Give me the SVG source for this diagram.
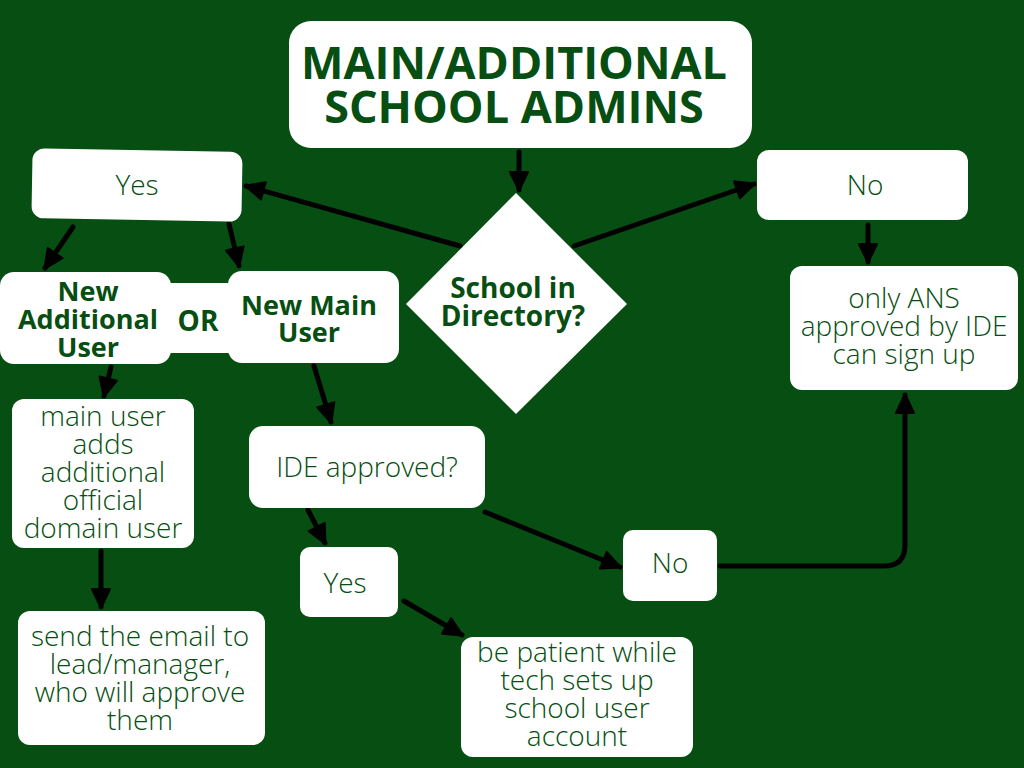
<svg xmlns="http://www.w3.org/2000/svg" width="1024" height="768" viewBox="0 0 1024 768">
<style>
.box{fill:#fff}
.t{font-family:"Open Sans","Noto Sans","Liberation Sans",sans-serif;fill:#064e11;text-anchor:middle}
.l{font-weight:300;font-size:28px}
.b{font-weight:700;font-size:27px}
.d{font-weight:700;font-size:28px}
.h{font-weight:700;font-size:45px}
.c{fill:none;stroke:#000;stroke-width:5;stroke-linecap:round;stroke-linejoin:round}
</style>
<defs>
<marker id="ah" markerUnits="userSpaceOnUse" markerWidth="24" markerHeight="24" refX="18" refY="10" orient="auto" viewBox="-2 -2 24 24">
<path d="M0,1 L19,10 L0,19 z" fill="#000" stroke="#000" stroke-width="2" stroke-linejoin="round"/>
</marker>
</defs>
<rect width="1024" height="768" fill="#064e11"/>
<g id="connectors">
<path class="c" d="M519,152 L519,190" marker-end="url(#ah)"/>
<path class="c" d="M460,246 L246,186" marker-end="url(#ah)"/>
<path class="c" d="M574,246 L754,184" marker-end="url(#ah)"/>
<path class="c" d="M73,227 L45,268" marker-end="url(#ah)"/>
<path class="c" d="M229,224 L239,266" marker-end="url(#ah)"/>
<path class="c" d="M111,367 L104,396" marker-end="url(#ah)"/>
<path class="c" d="M314,366 L331,422" marker-end="url(#ah)"/>
<path class="c" d="M101,551 L101,607" marker-end="url(#ah)"/>
<path class="c" d="M868,225 L868,262" marker-end="url(#ah)"/>
<path class="c" d="M308,510 L325,543" marker-end="url(#ah)"/>
<path class="c" d="M485,512 L620,567" marker-end="url(#ah)"/>
<path class="c" d="M404,601 L462,635" marker-end="url(#ah)"/>
<path class="c" d="M720,566 L884,566 Q905,566 905,545 L905,395" marker-end="url(#ah)"/>
</g>
<g id="title">
<rect class="box" x="289" y="21" width="463" height="127" rx="22"/>
<text class="t h" x="514" y="79">MAIN/ADDITIONAL</text>
<text class="t h" x="514" y="123">SCHOOL ADMINS</text>
</g>
<g id="diamond">
<polygon class="box" points="516,193 627,304 516,414 406,304"/>
<text class="t d" x="513" y="298">School in</text>
<text class="t d" x="513" y="326">Directory?</text>
</g>
<g id="yes-top">
<rect class="box" x="32" y="150" width="210" height="70" rx="12" transform="rotate(1 137 185)"/>
<text class="t l" x="137" y="195">Yes</text>
</g>
<g id="no-top">
<rect class="box" x="757" y="150" width="211" height="70" rx="12"/>
<text class="t l" x="865" y="195">No</text>
</g>
<g id="or">
<rect class="box" x="160" y="283" width="78" height="70" rx="10"/>
<text class="t d" x="198" y="331">OR</text>
</g>
<g id="new-additional">
<rect class="box" x="0" y="272" width="171" height="92" rx="14"/>
<text class="t b" x="88" y="301">New</text>
<text class="t b" x="88" y="329">Additional</text>
<text class="t b" x="88" y="357">User</text>
</g>
<g id="new-main">
<rect class="box" x="228" y="271" width="171" height="92" rx="14"/>
<text class="t b" x="309" y="315">New Main</text>
<text class="t b" x="309" y="342">User</text>
</g>
<g id="main-user-adds">
<rect class="box" x="12" y="399" width="182" height="149" rx="12"/>
<text class="t l" x="103" y="426">main user</text>
<text class="t l" x="103" y="454">adds</text>
<text class="t l" x="103" y="482">additional</text>
<text class="t l" x="103" y="510">official</text>
<text class="t l" x="103" y="538">domain user</text>
</g>
<g id="send-email">
<rect class="box" x="18" y="611" width="247" height="134" rx="12"/>
<text class="t l" x="140" y="646">send the email to</text>
<text class="t l" x="140" y="674">lead/manager,</text>
<text class="t l" x="140" y="702">who will approve</text>
<text class="t l" x="140" y="730">them</text>
</g>
<g id="ide-approved">
<rect class="box" x="249" y="426" width="236" height="82" rx="14"/>
<text class="t l" x="367" y="477">IDE approved?</text>
</g>
<g id="yes-bottom">
<rect class="box" x="300" y="547" width="98" height="70" rx="10"/>
<text class="t l" x="345" y="593">Yes</text>
</g>
<g id="no-bottom">
<rect class="box" x="623" y="530" width="94" height="71" rx="10"/>
<text class="t l" x="670" y="573">No</text>
</g>
<g id="be-patient">
<rect class="box" x="461" y="637" width="232" height="120" rx="12"/>
<text class="t l" x="577" y="662">be patient while</text>
<text class="t l" x="577" y="690">tech sets up</text>
<text class="t l" x="577" y="718">school user</text>
<text class="t l" x="577" y="746">account</text>
</g>
<g id="only-ans">
<rect class="box" x="790" y="266" width="228" height="124" rx="12"/>
<text class="t l" x="904" y="308">only ANS</text>
<text class="t l" x="904" y="336">approved by IDE</text>
<text class="t l" x="904" y="364">can sign up</text>
</g>
</svg>
